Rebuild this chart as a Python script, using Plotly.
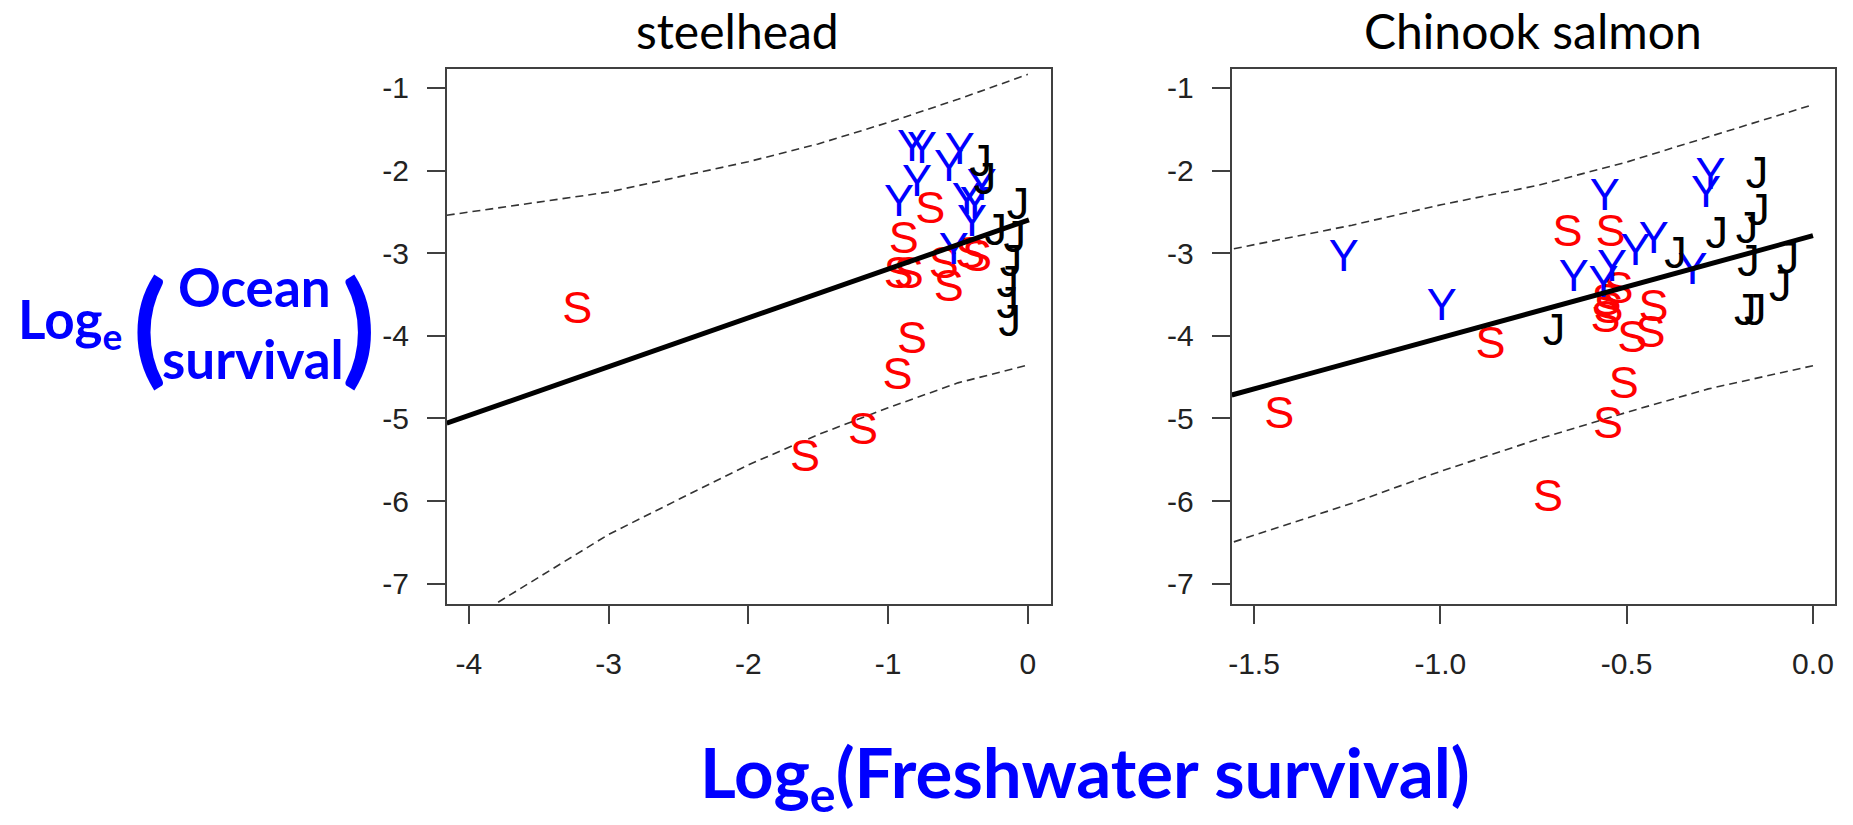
import plotly.graph_objects as go

W, H = 1853, 825

# ---------------- data ----------------
steel_S_x = [-3.224, -1.594, -1.179, -0.933, -0.829, -0.698, -0.888, -0.924, -0.852, -0.602, -0.566, -0.412, -0.364]
steel_S_y = [-3.707, -5.499, -5.173, -4.507, -4.073, -2.497, -2.860, -3.283, -3.283, -3.162, -3.444, -3.041, -3.081]
steel_Y_x = [-0.829, -0.757, -0.486, -0.564, -0.793, -0.921, -0.436, -0.379, -0.400, -0.529, -0.329]
steel_Y_y = [-1.751, -1.775, -1.787, -1.993, -2.174, -2.416, -2.392, -2.440, -2.658, -2.996, -2.218]
steel_J_x = [-0.336, -0.307, -0.071, -0.229, -0.093, -0.121, -0.143, -0.143, -0.129]
steel_J_y = [-1.932, -2.150, -2.452, -2.767, -2.851, -3.142, -3.395, -3.649, -3.867]
steel_fit_x = [-4.158, 0.008]
steel_fit_y = [-5.057, -2.597]
steel_up_x = [-4.158, -3.0, -2.0, -1.5, -1.0, -0.5, 0.0]
steel_up_y = [-2.541, -2.260, -1.893, -1.678, -1.419, -1.138, -0.836]
steel_lo_x = [-3.79, -3.0, -2.49, -2.0, -1.5, -1.0, -0.5, 0.0]
steel_lo_y = [-7.223, -6.404, -5.972, -5.562, -5.195, -4.871, -4.569, -4.353]

chin_S_x = [-1.432, -0.659, -0.543, -0.865, -0.711, -0.550, -0.508, -0.485, -0.436, -0.428, -0.522, -0.549, -0.557, -0.554]
chin_S_y = [-4.983, -2.782, -2.782, -4.135, -5.984, -5.096, -4.621, -4.054, -3.993, -3.690, -3.469, -3.711, -3.812, -3.610]
chin_Y_x = [-1.259, -0.996, -0.559, -0.476, -0.427, -0.642, -0.539, -0.562, -0.275, -0.287, -0.323]
chin_Y_y = [-3.082, -3.670, -2.337, -3.004, -2.863, -3.327, -3.206, -3.388, -2.090, -2.306, -3.236]
chin_J_x = [-0.150, -0.146, -0.177, -0.258, -0.369, -0.173, -0.067, -0.088, -0.182, -0.155, -0.695]
chin_J_y = [-2.076, -2.519, -2.742, -2.803, -3.045, -3.145, -3.109, -3.448, -3.730, -3.730, -3.973]
chin_fit_x = [-1.5597, 0.0]
chin_fit_y = [-4.716, -2.788]
chin_up_x = [-1.554, -1.237, -0.998, -0.735, -0.498, -0.281, 0.0]
chin_up_y = [-2.946, -2.661, -2.414, -2.176, -1.895, -1.593, -1.203]
chin_lo_x = [-1.554, -1.237, -0.998, -0.735, -0.498, -0.281, 0.0]
chin_lo_y = [-6.493, -6.026, -5.637, -5.247, -4.923, -4.642, -4.361]

steel_xticks = [-4, -3, -2, -1, 0]
steel_xtick_text = ["-4", "-3", "-2", "-1", "0"]
chin_xticks = [-1.5, -1.0, -0.5, 0.0]
chin_xtick_text = ["-1.5", "-1.0", "-0.5", "0.0"]
yticks = [-1, -2, -3, -4, -5, -6, -7]
ytick_text = ["-1", "-2", "-3", "-4", "-5", "-6", "-7"]

panel_titles = ["steelhead", "Chinook salmon"]

# ---------------- figure ----------------
fig = go.Figure()
LETTER_FONT = "Liberation Sans, Arial, sans-serif"
LSIZE = 45

def add_panel(xa, ya, Sx, Sy, Yx, Yy, Jx, Jy, fx, fy, ux, uy, lx, ly):
    for xs, ys in ((ux, uy), (lx, ly)):
        fig.add_trace(go.Scatter(x=xs, y=ys, mode="lines", xaxis=xa, yaxis=ya,
                                 line=dict(color="#333333", width=1.6, dash="8px,5px"),
                                 showlegend=False, hoverinfo="skip"))
    for xs, ys, ch, col in ((Sx, Sy, "S", "#FF0000"), (Yx, Yy, "Y", "#0000FF"), (Jx, Jy, "J", "#000000")):
        fig.add_trace(go.Scatter(x=xs, y=ys, mode="text", text=[ch] * len(xs), xaxis=xa, yaxis=ya,
                                 textposition="middle center",
                                 textfont=dict(family=LETTER_FONT, size=LSIZE, color=col),
                                 showlegend=False, hoverinfo="skip"))
    fig.add_trace(go.Scatter(x=fx, y=fy, mode="lines", xaxis=xa, yaxis=ya,
                             line=dict(color="#000000", width=5),
                             showlegend=False, hoverinfo="skip"))

add_panel("x", "y", steel_S_x, steel_S_y, steel_Y_x, steel_Y_y, steel_J_x, steel_J_y,
          steel_fit_x, steel_fit_y, steel_up_x, steel_up_y, steel_lo_x, steel_lo_y)
add_panel("x2", "y2", chin_S_x, chin_S_y, chin_Y_x, chin_Y_y, chin_J_x, chin_J_y,
          chin_fit_x, chin_fit_y, chin_up_x, chin_up_y, chin_lo_x, chin_lo_y)

def px_x(p):
    return p / W

def px_y(p):
    return 1 - p / H

ytop, ybot = 68.5, 603.6
ydom = [px_y(ybot), px_y(ytop)]

tickfont = dict(family=LETTER_FONT, size=30, color="#222222")
axis_common = dict(showgrid=False, zeroline=False, showline=True, mirror=True,
                   linecolor="#404040", linewidth=2, ticks="outside", ticklen=18,
                   tickwidth=1.6, tickcolor="#404040", tickfont=tickfont)

fig.update_layout(
    width=W, height=H, autosize=False,
    margin=dict(l=0, r=0, t=0, b=0),
    paper_bgcolor="white", plot_bgcolor="white",
    xaxis=dict(domain=[px_x(443.8), px_x(1049)], range=[-4.157, 0.164],
               tickvals=steel_xticks, ticktext=steel_xtick_text, anchor="y",
               ticklabelstandoff=14, **axis_common),
    yaxis=dict(domain=ydom, range=[-7.24, -0.765], tickvals=yticks, ticktext=ytick_text,
               anchor="x", ticklabelstandoff=12, **axis_common),
    xaxis2=dict(domain=[px_x(1230.4), px_x(1835.3)], range=[-1.5597, 0.060],
                tickvals=chin_xticks, ticktext=chin_xtick_text, anchor="y2",
                ticklabelstandoff=14, **axis_common),
    yaxis2=dict(domain=ydom, range=[-7.24, -0.765], tickvals=yticks, ticktext=ytick_text,
                anchor="x2", ticklabelstandoff=12, **axis_common),
)

TFONT = "Lato, Calibri, Carlito, sans-serif"
BLUE = "#0000FF"

def ann(text, x, y, size, color="#000000", bold=False, xanchor="center", yanchor="middle"):
    if bold:
        text = "<b>" + text + "</b>"
    fig.add_annotation(text=text, x=px_x(x), y=px_y(y), xref="paper", yref="paper",
                       showarrow=False, xanchor=xanchor, yanchor=yanchor,
                       font=dict(family=TFONT, size=size, color=color))

# panel titles
ann(panel_titles[0], 735, 30, 48)
ann(panel_titles[1], 1532, 30, 48)

# y-axis title
ann("Log<sub>e</sub>", 12, 322, 53, BLUE, bold=True, xanchor="left")
ann("(", 146, 324, 122, BLUE, bold=True)
ann(")", 356, 324, 122, BLUE, bold=True)
ann("Ocean", 251, 286, 53, BLUE, bold=True)
ann("survival", 250, 358, 53, BLUE, bold=True)

# x-axis title
ann("Log<sub>e</sub>(Freshwater survival)", 1083, 776, 69, BLUE, bold=True)

fig.write_html("out.html")
